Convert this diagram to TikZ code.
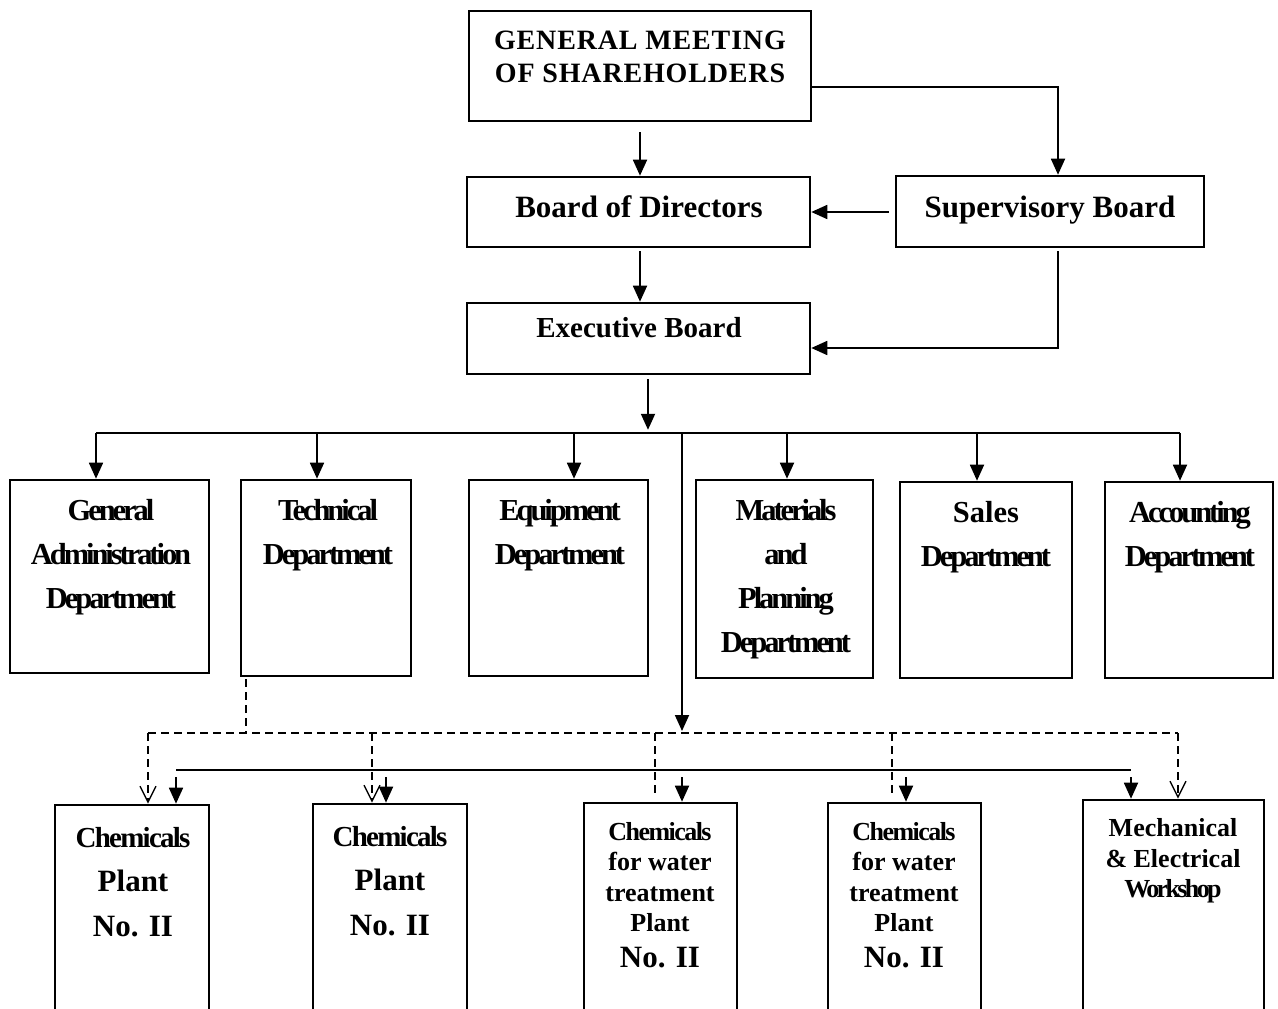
\documentclass[tikz,border=0pt]{standalone}
\usepackage{fontspec}
\setmainfont{Liberation Serif}
\newfontfamily\condA{Liberation Serif}[LetterSpace=-10]
\newfontfamily\condB{Liberation Serif}[LetterSpace=-6]
\newfontfamily\wideA{Liberation Serif}[LetterSpace=3]
\usetikzlibrary{arrows.meta,calc}
\begin{document}
\begin{tikzpicture}[x=1pt,y=-1pt,
  box/.style={draw, line width=2.6pt, rectangle, inner sep=0pt},
  lbl/.style={align=center, inner sep=0pt},
  conn/.style={line width=1.8pt},
  arr/.style={conn, -{Triangle[length=16pt,width=14pt]}},
  dline/.style={line width=1.5pt, dash pattern=on 8pt off 5pt},
  darr/.style={dline, -{Straight Barb[length=16pt,width=16pt,line width=1.4pt]}},
  topfont/.style={font=\bfseries\fontsize{31}{36}\selectfont},
  deptfont/.style={font=\condA\bfseries\fontsize{30.5}{44}\selectfont},
  plantfont/.style={font=\bfseries\fontsize{31}{44.5}\selectfont},
  waterfont/.style={font=\bfseries\fontsize{26}{30.5}\selectfont}]
\useasboundingbox (0,0) rectangle (1278,1009);
\clip (0,0) rectangle (1278,1009);

% top level
\node[box, minimum width=342pt, minimum height=110pt] (gm) at (640,66) {};
\node[lbl, font=\wideA\bfseries\fontsize{28}{33}\selectfont] (gmt) at (640,57) {GENERAL MEETING\\OF SHAREHOLDERS};
\node[box, minimum width=343pt, minimum height=70pt] (bod) at (638.5,212) {};
\node[lbl, topfont] (bodt) at (639,206.5) {Board of Directors};
\node[box, minimum width=308pt, minimum height=71pt] (sup) at (1050,211.5) {};
\node[lbl, topfont] (supt) at (1050,210) {Supervisory Board};
\node[box, minimum width=343pt, minimum height=71pt] (eb) at (638.5,338.5) {};
\node[lbl, font=\bfseries\fontsize{29}{34}\selectfont] (ebt) at (639,327.5) {Executive Board};

% departments
\node[box, minimum width=199pt, minimum height=193pt] (ga) at (109.5,576.5) {};
\node[lbl, deptfont] (gat) at (111,557) {General\\Administration\\Department};
\node[box, minimum width=170pt, minimum height=196pt] (tech) at (326,578) {};
\node[lbl, deptfont] (techt) at (328,535) {Technical\\Department};
\node[box, minimum width=179pt, minimum height=196pt] (equip) at (558.5,578) {};
\node[lbl, deptfont] (equipt) at (560,535) {Equipment\\Department};
\node[box, minimum width=177pt, minimum height=198pt] (mat) at (784.5,579) {};
\node[lbl, deptfont] (matt) at (786,579) {Materials\\and\\Planning\\Department};
\node[box, minimum width=172pt, minimum height=196pt] (sales) at (986,580) {};
\node[lbl, deptfont] (salest) at (986,537) {{\rmfamily Sales}\\Department};
\node[box, minimum width=168pt, minimum height=196pt] (acc) at (1189,580) {};
\node[lbl, deptfont] (acct) at (1190,537) {Accounting\\Department};

% plants
\node[box, minimum width=154pt, minimum height=225pt] (p1) at (132,917.5) {};
\node[lbl, plantfont] (p1t) at (133,882) {{\condB\fontsize{29}{44.5}\selectfont Chemicals}\\Plant\\No. II};
\node[box, minimum width=154pt, minimum height=226pt] (p2) at (390,917) {};
\node[lbl, plantfont] (p2t) at (390,881) {{\condB\fontsize{29}{44.5}\selectfont Chemicals}\\Plant\\No. II};
\node[box, minimum width=153pt, minimum height=227pt] (p3) at (660.5,916.5) {};
\node[lbl, waterfont] (p3t) at (660,895) {{\condB Chemicals}\\for water\\treatment\\Plant\\[5pt]{\fontsize{31}{31}\selectfont No. II}};
\node[box, minimum width=153pt, minimum height=227pt] (p4) at (904.5,916.5) {};
\node[lbl, waterfont] (p4t) at (904,895) {{\condB Chemicals}\\for water\\treatment\\Plant\\[5pt]{\fontsize{31}{31}\selectfont No. II}};
\node[box, minimum width=181pt, minimum height=230pt] (p5) at (1173.5,915) {};
\node[lbl, waterfont] (p5t) at (1173,861) {Mechanical\\\& Electrical\\{\condA Workshop}};

% upper connectors
\draw[arr] ($(gm.south)+(0,10)$) -- (gm.south |- bod.north);
\draw[arr] ($(bod.south)+(1.5,3)$) -- ($(eb.north)+(1.5,0)$);
\draw[arr] ($(gm.east)+(0,21)$) -| ($(sup.north)+(8,0)$);
\draw[arr] ($(sup.west)+(-6,0.5)$) -- (bod.east);
\draw[arr] ($(sup.south)+(8,3)$) |- ($(eb.east)+(0,9.5)$);

% bus to departments
\coordinate (busL) at (96,433);
\coordinate (busR) at (1180,433);
\draw[conn] (busL) -- (busR);
\draw[arr] ($(eb.south)+(9.5,4)$) -- ($(eb.south)+(9.5,54.5)$);
\foreach \n/\dx in {ga/-13.5, tech/-9, equip/15.5, mat/2.5, sales/-9, acc/-9}
  \draw[arr] ($(\n.north |- busL)+(\dx,0)$) -- ($(\n.north)+(\dx,0)$);

% central line down to plants
\coordinate (midTop) at (682,433);
\coordinate (midBot) at (682,731);
\draw[arr] (midTop) -- (midBot);

% dashed technical links
\coordinate (dL) at (148,733);
\coordinate (dR) at (1178,733);
\draw[dline] ($(tech.south)+(-80,2)$) -- ($(tech.south |- dL)+(-80,0)$);
\draw[dline] (dL) -- (dR);
\draw[darr] (dL) -- (dL |- p1.north);
\draw[darr] ($(p2.north |- dL)+(-18,0)$) -- ($(p2.north)+(-18,0)$);
\draw[dline] ($(p3.north |- dL)+(-5.5,0)$) -- ($(p3.north)+(-5.5,-8)$);
\draw[dline] ($(p4.north |- dL)+(-12.5,0)$) -- ($(p4.north)+(-12.5,-8)$);
\draw[darr] (dR) -- (dR |- p5.north);

% solid bus to plants
\coordinate (sL) at (176,770);
\coordinate (sR) at (1131,770);
\draw[conn] (sL) -- (sR);
\foreach \n/\dx in {p1/44, p2/-4, p3/21.5, p4/1.5, p5/-42.5}
  \draw[arr] ($(\n.north |- sL)+(\dx,7)$) -- ($(\n.north)+(\dx,0)$);
\end{tikzpicture}
\end{document}
